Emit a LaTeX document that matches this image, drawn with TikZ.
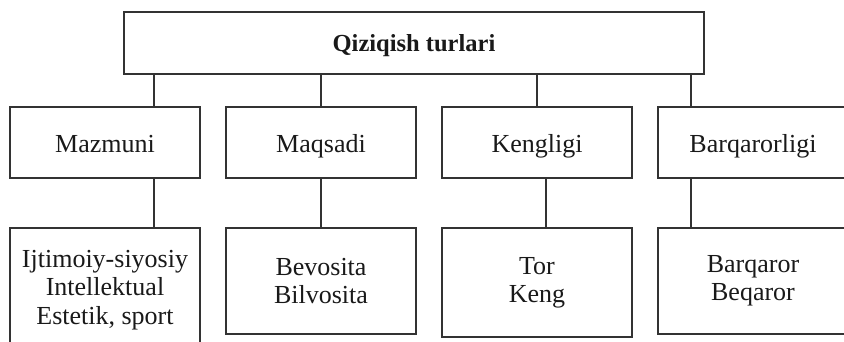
\documentclass[tikz,border=0pt]{standalone}
\usepackage{fontspec}
\setmainfont{Liberation Serif}
\begin{document}
\begin{tikzpicture}[x=1pt,y=-1pt,
  box/.style={draw=black!80, line width=1.1pt, inner sep=0pt, text=black!90,
    align=center, font=\fontsize{26}{28.3}\selectfont},
  midbox/.style={box, minimum width=190pt, minimum height=71pt, text height=22pt, text depth=1.6pt},
  lowbox/.style={box, minimum width=190pt},
  link/.style={draw=black!80, line width=1.1pt}]
\useasboundingbox (0,0) rectangle (844,342);
\clip (0,0) rectangle (844,342);
\node[box, minimum width=580pt, minimum height=62pt,
  font=\bfseries\fontsize{24.5}{28}\selectfont, text height=18pt, text depth=0.6pt] (top) at (414,43) {Qiziqish turlari};
\node[midbox] (m1) at (105,142.5) {Mazmuni};
\node[midbox] (m2) at (321,142.5) {Maqsadi};
\node[midbox] (m3) at (537,142.5) {Kengligi};
\node[midbox] (m4) at (753,142.5) {Barqarorligi};
\node[lowbox, minimum height=124pt] (b1) at (105,290) {Ijtimoiy-siyosiy\\Intellektual\\Estetik, sport};
\node[lowbox, minimum height=106pt] (b2) at (321,281) {Bevosita\\Bilvosita};
\node[lowbox, minimum height=109pt] (b3) at (537,282.5) {Tor\\Keng};
\node[lowbox, minimum height=106pt] (b4) at (753,281) {Barqaror\\Beqaror};
\coordinate (c1) at ([xshift=49pt]m1.north);
\coordinate (d1) at ([xshift=49pt]m1.south);
\coordinate (d3) at ([xshift=9pt]m3.south);
\coordinate (c4) at ([xshift=-62pt]m4.north);
\coordinate (d4) at ([xshift=-62pt]m4.south);
\draw[link] (c1 |- top.south) -- (c1);
\draw[link] (m2.north |- top.south) -- (m2.north);
\draw[link] (m3.north |- top.south) -- (m3.north);
\draw[link] (c4 |- top.south) -- (c4);
\draw[link] (d1) -- (d1 |- b1.north);
\draw[link] (m2.south) -- (b2.north);
\draw[link] (d3) -- (d3 |- b3.north);
\draw[link] (d4) -- (d4 |- b4.north);
\end{tikzpicture}
\end{document}
